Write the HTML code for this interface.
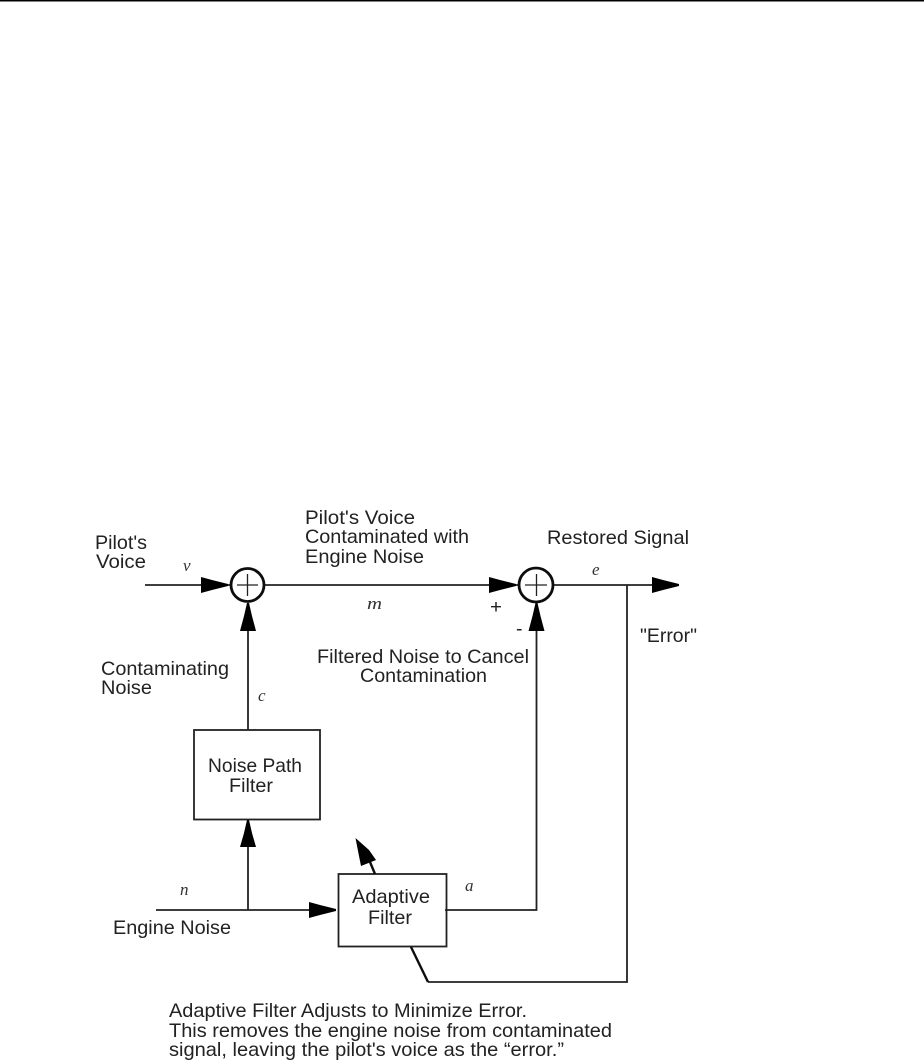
<!DOCTYPE html>
<html>
<head>
<meta charset="utf-8">
<style>
html,body{margin:0;padding:0;background:#fff;width:924px;height:1063px;overflow:hidden}
svg{display:block}
text{font-family:"Liberation Sans",sans-serif;font-size:19.5px;fill:#222}
text.i{font-family:"Liberation Serif",serif;font-style:italic;font-size:17px;fill:#333}
</style>
</head>
<body>
<svg width="924" height="1063" viewBox="0 0 924 1063" xmlns="http://www.w3.org/2000/svg">
<defs><filter id="b" x="-5%" y="-5%" width="110%" height="110%"><feGaussianBlur stdDeviation="0.35"/></filter></defs>
<rect x="0" y="0" width="924" height="1.5" fill="#000"/>
<g filter="url(#b)">
<g fill="none" stroke="#222" stroke-width="1.8">
<path d="M145 585H230"/>
<path d="M265 585H518"/>
<path d="M554 585H655"/>
<path d="M248 605V730"/>
<path d="M248 822V910"/>
<path d="M156 910H336"/>
<rect x="194" y="730" width="126" height="89.5"/>
<rect x="338.500" y="874" width="108" height="72.5"/>
<path d="M445 910H536.5V625"/>
<path d="M627 585V982H428"/>
<circle cx="247.5" cy="585" r="16.5" stroke="#111" stroke-width="2.8"/>
<circle cx="536" cy="585" r="17" stroke="#111" stroke-width="2.8"/>
<path d="M237 585H258M247.5 574V596" stroke-width="1.3"/>
<path d="M525 585H547M536.5 574V596" stroke-width="1.3"/>
</g>
<path d="M428 982L411 947" stroke="#111" stroke-width="2.4" fill="none"/>
<path d="M375 874L370 862" stroke="#111" stroke-width="2.4" fill="none"/>
<g fill="#000">
<path d="M201 577L212 580L228 584V586L212 590L201 593Z"/>
<path d="M489 577L500 580L516 584V586L500 590L489 593Z"/>
<path d="M652 577L663 580L679 584V586L663 590L652 593Z"/>
<path d="M309 902L320 905L336 909V911L320 915L309 918Z"/>
<path d="M247 603H249L252 616L256 631H240L244 616Z"/>
<path d="M247 820H249L252 833L256 847H240L244 833Z"/>
<path d="M535.500 603H537.500L540.500 616L544.500 631H528.500L532.500 616Z"/>
<path d="M355.5 838L369 850L376 860L361 866L358 851Z"/>
</g>
<text x="95" y="549" textLength="52" lengthAdjust="spacingAndGlyphs">Pilot's</text>
<text x="96" y="568" textLength="50" lengthAdjust="spacingAndGlyphs">Voice</text>
<text x="305" y="524" textLength="110" lengthAdjust="spacingAndGlyphs">Pilot's Voice</text>
<text x="305" y="543" textLength="164" lengthAdjust="spacingAndGlyphs">Contaminated with</text>
<text x="305" y="563" textLength="119" lengthAdjust="spacingAndGlyphs">Engine Noise</text>
<text x="547" y="544" textLength="142" lengthAdjust="spacingAndGlyphs">Restored Signal</text>
<text x="101" y="675" textLength="128" lengthAdjust="spacingAndGlyphs">Contaminating</text>
<text x="101" y="694" textLength="51" lengthAdjust="spacingAndGlyphs">Noise</text>
<text x="317" y="663" textLength="212" lengthAdjust="spacingAndGlyphs">Filtered Noise to Cancel</text>
<text x="360" y="682" textLength="127" lengthAdjust="spacingAndGlyphs">Contamination</text>
<text x="640" y="642" textLength="57" lengthAdjust="spacingAndGlyphs">"Error"</text>
<text x="490" y="613" textLength="12" lengthAdjust="spacingAndGlyphs">+</text>
<text x="516" y="635">-</text>
<text x="208" y="772" textLength="94" lengthAdjust="spacingAndGlyphs">Noise Path</text>
<text x="229" y="792" textLength="44" lengthAdjust="spacingAndGlyphs">Filter</text>
<text x="352" y="903" textLength="78" lengthAdjust="spacingAndGlyphs">Adaptive</text>
<text x="368" y="924" textLength="44" lengthAdjust="spacingAndGlyphs">Filter</text>
<text x="113" y="934" textLength="118" lengthAdjust="spacingAndGlyphs">Engine Noise</text>
<text x="169" y="1017" textLength="358" lengthAdjust="spacingAndGlyphs">Adaptive Filter Adjusts to Minimize Error.</text>
<text x="169" y="1037" textLength="443" lengthAdjust="spacingAndGlyphs">This removes the engine noise from contaminated</text>
<text x="169" y="1056" textLength="395" lengthAdjust="spacingAndGlyphs">signal, leaving the pilot's voice as the “error.”</text>
<text class="i" x="183" y="571">v</text>
<text class="i" x="367" y="609" textLength="15" lengthAdjust="spacingAndGlyphs">m</text>
<text class="i" x="258" y="701">c</text>
<text class="i" x="592" y="575">e</text>
<text class="i" x="180" y="895">n</text>
<text class="i" x="465" y="891">a</text>
</g>
</svg>
</body>
</html>
